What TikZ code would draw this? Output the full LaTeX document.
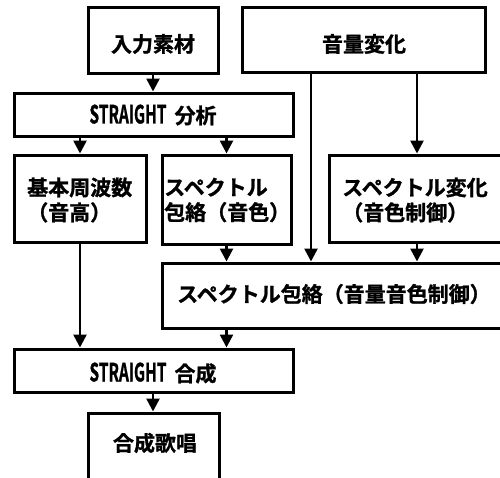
\documentclass[tikz,border=0pt]{standalone}
\usepackage{fontspec}
\setmainfont{Noto Sans CJK JP}[BoldFont={Noto Sans CJK JP Bold},BoldFeatures={FakeBold=1.2}]
\usetikzlibrary{arrows.meta}
\newcommand{\lat}[1]{\scalebox{0.62}[1]{\fontsize{25}{26}\selectfont #1}}
\begin{document}
\begin{tikzpicture}[x=1pt,y=1pt,
  box/.style={draw=black, line width=3pt, fill=white, inner sep=0pt},
  lbl/.style={inner sep=0pt, font=\fontsize{21}{25}\selectfont\bfseries, align=left},
  arr/.style={line width=2.6pt, -{Triangle[length=13pt,width=13pt]}}]
\useasboundingbox (0,0) rectangle (500,-477);
\begin{scope}
\clip (0,0) rectangle (500,-477);
% boxes
\node[box, minimum width=130pt, minimum height=66pt] (A) at (153,-40) {};
\node[box, minimum width=243pt, minimum height=65pt] (B) at (363.5,-39.5) {};
\node[box, minimum width=279pt, minimum height=43pt] (C) at (153.5,-114.5) {};
\node[box, minimum width=132pt, minimum height=87pt] (D) at (80,-198.5) {};
\node[box, minimum width=129pt, minimum height=89pt] (E) at (226.5,-199.5) {};
\node[box, minimum width=191pt, minimum height=87pt] (F) at (424.5,-198.5) {};
\node[box, minimum width=358pt, minimum height=65pt] (G) at (341,-295.5) {};
\node[box, minimum width=279pt, minimum height=43pt] (H) at (153.5,-370.5) {};
\node[box, minimum width=131pt, minimum height=87pt] (I) at (153.5,-456.5) {};
% texts
\node[lbl] (tA) at (153,-44) {入力素材};
\node[lbl] (tB) at (364,-44) {音量変化};
\node[lbl] (tC) at (153,-115) {\lat{STRAIGHT}\hspace{8pt}分析};
\node[lbl, anchor=west] (tD) at (27,-200) {基本周波数\\（音高）};
\node[lbl, anchor=west] (tE) at (164,-200) {スペクトル\\包絡（音色）};
\node[lbl, anchor=west] (tF) at (342,-200) {スペクトル変化\\（音色制御）};
\node[lbl, anchor=west] (tG) at (177,-294) {スペクトル包絡（音量音色制御）};
\node[lbl] (tH) at (153,-373) {\lat{STRAIGHT}\hspace{8pt}合成};
\node[lbl] (tI) at (155,-443) {合成歌唱};
% connector columns
\coordinate (xl) at (311,0);
\coordinate (xr) at (417,0);
% connectors
\draw[arr] (A.south) -- (A.south |- C.north);
\draw[arr] (C.south -| D.north) -- (D.north);
\draw[arr] (C.south -| E.north) -- (E.north);
\draw[arr] (B.south -| xr) -- (F.north -| xr);
\draw[arr] (B.south -| xl) -- (G.north -| xl);
\draw[arr] (F.south -| xr) -- (G.north -| xr);
\draw[arr] (E.south) -- (E.south |- G.north);
\draw[arr] (D.south) -- (D.south |- H.north);
\draw[arr] (G.south -| E.south) -- (H.north -| E.south);
\draw[arr] (H.south -| A.south) -- (I.north -| A.south);
\end{scope}
\end{tikzpicture}
\end{document}
